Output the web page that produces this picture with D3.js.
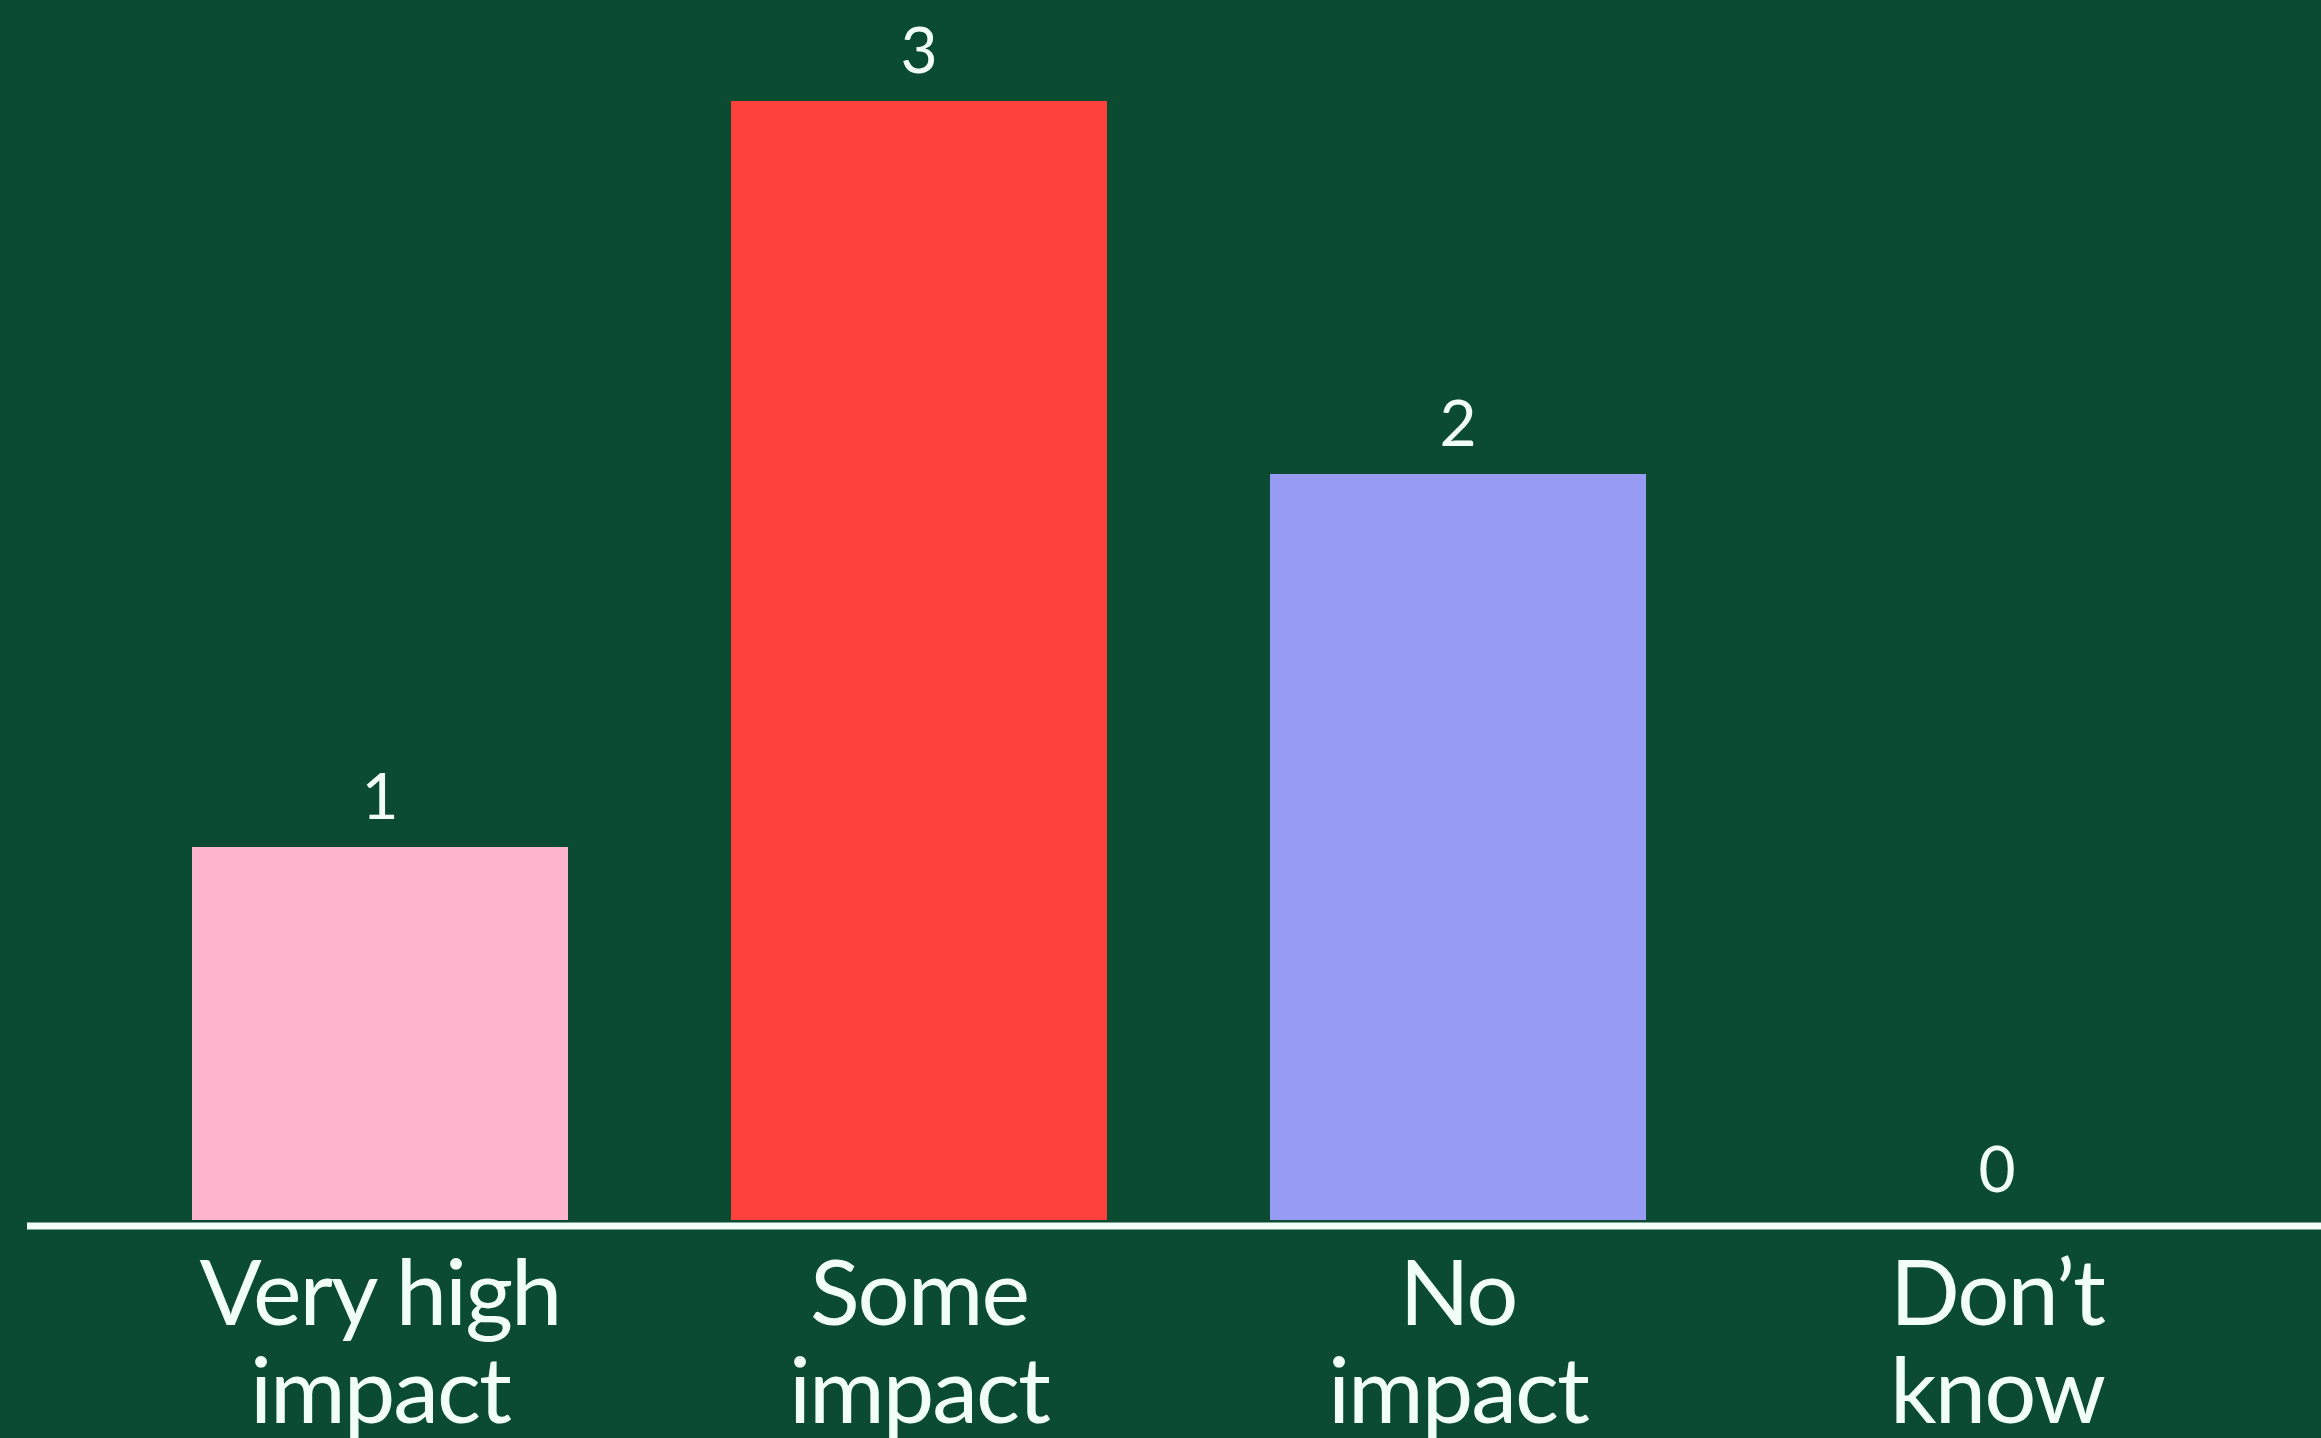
<!DOCTYPE html>
<html>
<head>
<meta charset="utf-8">
<script src="https://cdn.jsdelivr.net/npm/d3@7"></script>
<style>
  html, body { margin: 0; padding: 0; background: #0b4b31; overflow: hidden; }
  svg { display: block; }
</style>
</head>
<body>
<svg id="chart" width="2321" height="1438"></svg>
<script>
const categories = ["Very high impact", "Some impact", "No impact", "Don’t know"];
const labelLines = [["Very high", "impact"], ["Some", "impact"], ["No", "impact"], ["Don’t", "know"]];
const values = [1, 3, 2, 0];
const colors = ["#ffb4cd", "#ff413b", "#979bf3", "#979bf3"];

const W = 2321, H = 1438;
const svg = d3.select("#chart");
svg.append("rect").attr("width", W).attr("height", H).attr("fill", "#0b4b31");

const x = d3.scaleBand()
  .domain(categories)
  .range([110.5, 2266.5])
  .paddingInner(0.3024)
  .paddingOuter(0.1512);

const y = d3.scaleLinear().domain([0, 3]).range([1220, 101]);

const font = "Lato, 'Open Sans', sans-serif";
const textColor = "#f2fff6";

svg.selectAll("rect.bar")
  .data(values)
  .enter().append("rect")
  .attr("class", "bar")
  .attr("x", (d, i) => x(categories[i]))
  .attr("width", x.bandwidth())
  .attr("y", d => y(d))
  .attr("height", d => y(0) - y(d))
  .attr("fill", (d, i) => colors[i]);

svg.selectAll("text.val")
  .data(values)
  .enter().append("text")
  .attr("class", "val")
  .attr("x", (d, i) => x(categories[i]) + x.bandwidth() / 2)
  .attr("y", d => y(d) - 28)
  .attr("text-anchor", "middle")
  .attr("font-family", font)
  .attr("font-size", 64)
  .attr("fill", textColor)
  .text(d => d);

// baseline axis
const axis = d3.axisBottom(x).tickSize(0).tickFormat("");
const gAxis = svg.append("g").attr("transform", `translate(0,${y(0) + 6})`).call(axis);
gAxis.select(".domain").remove();
gAxis.append("line")
  .attr("x1", 27).attr("x2", W)
  .attr("y1", 0).attr("y2", 0)
  .attr("stroke", textColor).attr("stroke-width", 7);

const labels = svg.selectAll("text.cat")
  .data(categories)
  .enter().append("text")
  .attr("class", "cat")
  .attr("x", d => x(d) + x.bandwidth() / 2)
  .attr("y", 1325)
  .attr("text-anchor", "middle")
  .attr("font-family", font)
  .attr("font-size", 92)
  .attr("letter-spacing", -2)
  .attr("fill", textColor);

labels.each(function(d, i) {
  const t = d3.select(this);
  labelLines[i].forEach((ln, j) => {
    t.append("tspan")
      .attr("x", x(d) + x.bandwidth() / 2)
      .attr("dy", j === 0 ? 0 : 98)
      .text(ln);
  });
});
</script>
</body>
</html>
